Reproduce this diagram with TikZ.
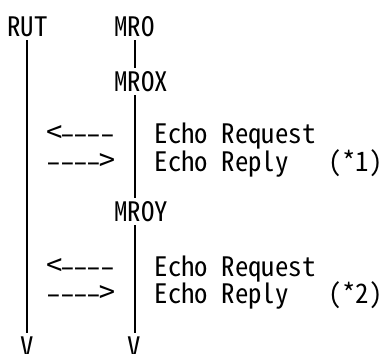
\documentclass[tikz,border=0pt]{standalone}
\usepackage{fontspec}
\usepackage{graphicx}
% half-width Latin glyphs give a fixed 0.5em cell per character
\newfontfamily\termfont[RawFeature={+hwid}]{Noto Sans CJK JP}
% one character cell holding a widened dash or arrow head
\newcommand\hy{\makebox[0.5em]{\scalebox{1.4}[1]{-}}}
\newcommand\lhead{\makebox[0.5em]{\scalebox{1.2}[1.15]{<}}}
\newcommand\rhead{\makebox[0.5em]{\scalebox{1.2}[1.15]{>}}}
\newcommand\cellgap{\kern0.5em}
\begin{document}
\begin{tikzpicture}[x=1pt,y=1pt,
  txt/.style={font=\termfont\fontsize{26.8pt}{26.8pt}\selectfont,
    inner sep=0pt, outer xsep=0pt, outer ysep=4pt,
    text height=19.6pt, text depth=0pt, anchor=base west},
  lifeline/.style={line width=2pt}]
\useasboundingbox[fill=white] (0,0) rectangle (379,-353);

% column n starts at 7.2 + 13.4n
\node[txt] (rut)  at (7.2,-36.5)   {RUT};
\node[txt] (mro)  at (114.4,-36.5) {MRO};
\node[txt] (mrox) at (114.4,-91.4) {MROX};
\node[txt] (mroy) at (114.4,-221.4) {MROY};
\node[txt] (rutend) at (20.6,-356.4)  {V};
\node[txt] (mroend) at (127.8,-356.4) {V};

% first exchange
\node[txt] (reqa)  at (47.4,-143.7)  {\lhead\hy\hy\hy\hy};
\node[txt] (repa)  at (47.4,-171.4)  {\hy\hy\hy\hy\rhead};
\node[txt] (reqta) at (154.6,-143.7) {Echo\cellgap Request};
\node[txt] (repta) at (154.6,-171.4) {Echo\cellgap Reply};
\node[txt] (notea) at (328.8,-171.4) {\makebox[3.7em][l]{(*1)}};

% second exchange
\node[txt] (reqb)  at (47.4,-276.4)  {\lhead\hy\hy\hy\hy};
\node[txt] (repb)  at (47.4,-303.0)  {\hy\hy\hy\hy\rhead};
\node[txt] (reqtb) at (154.6,-276.4) {Echo\cellgap Request};
\node[txt] (reptb) at (154.6,-303.0) {Echo\cellgap Reply};
\node[txt] (noteb) at (328.8,-303.0) {\makebox[3.7em][l]{(*2)}};

% lifelines
\draw[lifeline] (rut.south) -- (rutend.north);
\draw[lifeline] (mro.south) -- (mro.south |- mrox.north)
  (mro.south |- mrox.south) -- (mro.south |- mroy.north)
  (mro.south |- mroy.south) -- (mroend.north);
\end{tikzpicture}
\end{document}
